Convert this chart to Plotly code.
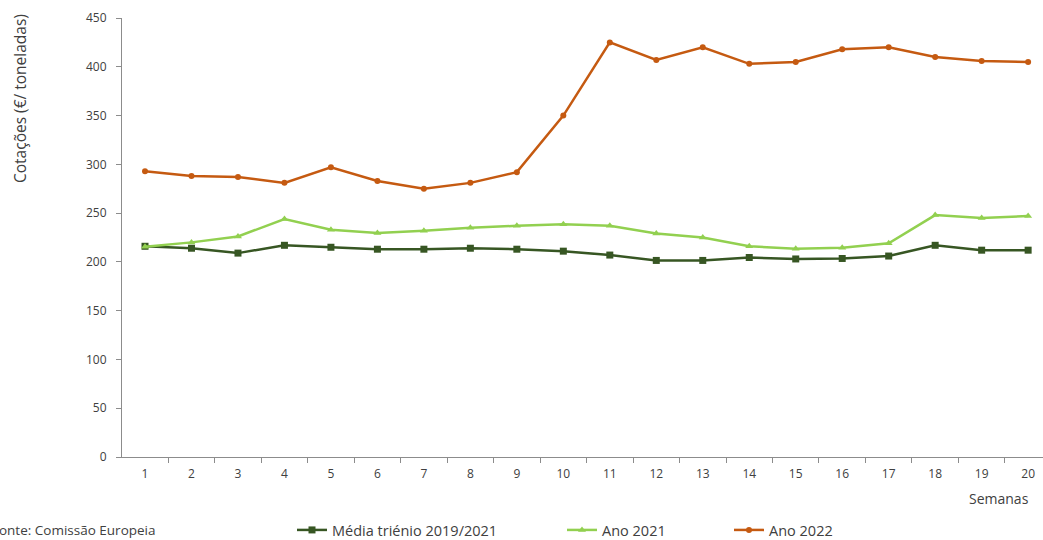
import plotly.graph_objects as go

semanas = [str(i) for i in range(1, 21)]

media_trienio = [216, 214, 209, 217, 215, 213, 213, 214, 213, 211,
                 207, 201.5, 201.5, 204.5, 203, 203.5, 206, 217, 212, 212]
ano_2021 = [215.5, 220, 226, 244, 233, 229.5, 232, 235, 237, 238.5,
            237, 229, 225, 216, 213.5, 214.5, 219, 248, 245, 247]
ano_2022 = [293, 288, 287, 281, 297, 283, 275, 281, 292, 350,
            425, 407, 420, 403, 405, 418, 420, 410, 406, 405]

font = "Open Sans, Liberation Sans, sans-serif"
grey_txt = "#404040"
axis_col = "#8c8c8c"

fig = go.Figure()

fig.add_trace(go.Scatter(x=semanas, y=media_trienio, mode="lines+markers",
                         name="Média triénio 2019/2021",
                         line=dict(color="#375623", width=2.5),
                         marker=dict(symbol="square", size=7, color="#375623"),
                         legend="legend"))
fig.add_trace(go.Scatter(x=semanas, y=ano_2021, mode="lines+markers",
                         name="Ano 2021",
                         line=dict(color="#92D050", width=2.5),
                         marker=dict(symbol="triangle-up", size=7, color="#92D050"),
                         legend="legend2"))
fig.add_trace(go.Scatter(x=semanas, y=ano_2022, mode="lines+markers",
                         name="Ano 2022",
                         line=dict(color="#C55A11", width=2.5),
                         marker=dict(symbol="circle", size=6, color="#C55A11"),
                         legend="legend3"))

W, H = 1043, 540
ml, mr, mt, mb = 122, 0, 18, 83
pw, ph = W - ml - mr, H - mt - mb


def px_x(x):
    return (x - ml) / pw


def px_y(y):
    return (H - mb - y) / ph


leg_common = dict(orientation="h", yanchor="middle", xanchor="left",
                  font=dict(family=font, size=14.5, color=grey_txt),
                  bgcolor="rgba(0,0,0,0)", borderwidth=0,
                  tracegroupgap=0, itemwidth=30)

fig.update_layout(
    width=W, height=H,
    # legends sit below the plot; don't let them push the margins
    margin=dict(l=ml, r=mr, t=mt, b=mb, autoexpand=False),
    paper_bgcolor="white", plot_bgcolor="white",
    font=dict(family=font, size=12, color=grey_txt),
    showlegend=True,
    legend=dict(x=px_x(292), y=px_y(530), **leg_common),
    legend2=dict(x=px_x(562), y=px_y(530), **leg_common),
    legend3=dict(x=px_x(729), y=px_y(530), **leg_common),
    xaxis=dict(type="category", range=[-0.495, 19.32], tickson="boundaries",
               showline=True, linecolor=axis_col, linewidth=1,
               ticks="outside", ticklen=5, tickcolor=axis_col,
               ticklabelstandoff=6,
               showgrid=False, zeroline=False,
               tickfont=dict(family=font, size=12, color=grey_txt)),
    yaxis=dict(range=[0, 450], dtick=50, showline=True, linecolor=axis_col,
               linewidth=1, ticks="outside", ticklen=5, tickcolor=axis_col,
               ticklabelstandoff=7,
               showgrid=False, zeroline=False,
               tickfont=dict(family=font, size=12, color=grey_txt)),
    annotations=[
        dict(text="Cotações (€/ toneladas)", textangle=-90, showarrow=False,
             xref="paper", yref="paper", x=px_x(20), y=px_y(99),
             xanchor="center", yanchor="middle",
             font=dict(family=font, size=15.5, color=grey_txt)),
        dict(text="Semanas", showarrow=False, xref="paper", yref="paper",
             x=px_x(1031), y=px_y(499), xanchor="right", yanchor="middle",
             font=dict(family=font, size=14, color=grey_txt)),
        dict(text="Fonte: Comissão Europeia", showarrow=False,
             xref="paper", yref="paper", x=px_x(158), y=px_y(530),
             xanchor="right", yanchor="middle",
             font=dict(family=font, size=13.5, color=grey_txt)),
    ],
)

fig.write_html("out.html", config={"displayModeBar": False},
               post_script="document.body.style.margin='0';")
